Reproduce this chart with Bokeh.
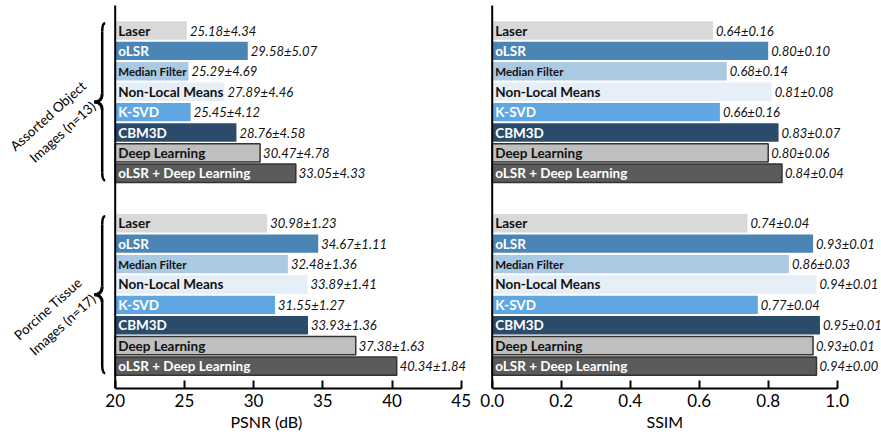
import math

from bokeh.core.properties import value
from bokeh.embed import file_html
from bokeh.layouts import row
from bokeh.models import ColumnDataSource, FixedTicker, PrintfTickFormatter, Range1d, Title
from bokeh.plotting import figure
from bokeh.resources import INLINE

# ---------------------------------------------------------------- data
methods = ["Laser", "oLSR", "Median Filter", "Non-Local Means", "K-SVD",
           "CBM3D", "Deep Learning", "oLSR + Deep Learning"]
groups = ["Assorted Object\nImages (n=13)", "Porcine Tissue\nImages (n=17)"]

psnr_mean_objects = [25.18, 29.58, 25.29, 27.89, 25.45, 28.76, 30.47, 33.05]
psnr_std_objects = [4.34, 5.07, 4.69, 4.46, 4.12, 4.58, 4.78, 4.33]
psnr_mean_tissue = [30.98, 34.67, 32.48, 33.89, 31.55, 33.93, 37.38, 40.34]
psnr_std_tissue = [1.23, 1.11, 1.36, 1.41, 1.27, 1.36, 1.63, 1.84]

ssim_mean_objects = [0.64, 0.80, 0.68, 0.81, 0.66, 0.83, 0.80, 0.84]
ssim_std_objects = [0.16, 0.10, 0.14, 0.08, 0.16, 0.07, 0.06, 0.04]
ssim_mean_tissue = [0.74, 0.93, 0.86, 0.94, 0.77, 0.95, 0.93, 0.94]
ssim_std_tissue = [0.04, 0.01, 0.03, 0.01, 0.04, 0.01, 0.01, 0.00]

psnr_ticks = [20, 25, 30, 35, 40, 45]
ssim_ticks = [0.0, 0.2, 0.4, 0.6, 0.8, 1.0]

# ---------------------------------------------------------------- style
fill_colors = ["#d9d9d9", "#4a85b6", "#aac9e3", "#e6eef8",
               "#60a7e2", "#2b4b6b", "#bfbfbf", "#5b5b5b"]
line_colors = [None, None, None, None, None, None, "#333333", "#333333"]
name_colors = ["#111111", "#ffffff", "#111111", "#111111",
               "#ffffff", "#ffffff", "#111111", "#ffffff"]
name_sizes = ["13.5px", "13.5px", "11.5px", "13.5px",
              "13.5px", "13.5px", "13.5px", "13.5px"]

FONT = "Lato"
H = 436
FRAME_H = 388                 # frame height; the x axis sits on its bottom edge
ROW_PX = 20.4                 # vertical pitch of one bar
FIRST_ROW_PX = 30             # centre of the first bar below the frame top
AXIS_TOP_PX = 5               # where the vertical axis line starts
GROUP_GAP = 9.45              # row offset of the second group
BAR_H = 0.9

y_start = (FRAME_H - FIRST_ROW_PX) / ROW_PX
y_end = -FIRST_ROW_PX / ROW_PX
y_axis_top = -(FIRST_ROW_PX - AXIS_TOP_PX) / ROW_PX


def make_source(means, stds, base):
    ys, rights, names, vals, fills, lines, ncols, nsizes = [], [], [], [], [], [], [], []
    for g, (m_list, s_list) in enumerate(zip(means, stds)):
        for i, (m, s) in enumerate(zip(m_list, s_list)):
            ys.append(g * GROUP_GAP + i)
            rights.append(m)
            names.append(methods[i])
            vals.append(f"{m:.2f}\u00b1{s:.2f}")
            fills.append(fill_colors[i])
            lines.append(line_colors[i])
            ncols.append(name_colors[i])
            nsizes.append(name_sizes[i])
    return ColumnDataSource(dict(y=ys, left=[base] * len(ys), right=rights, name=names,
                                 val=vals, fill=fills, line=lines, ncol=ncols, nsize=nsizes))


def make_panel(width, origin_px, px_per_unit, base, top, ticks, fmt, title, title_left,
               means, stds):
    x_start = base - origin_px / px_per_unit
    x_end = x_start + width / px_per_unit
    p = figure(width=width, height=H, output_backend="svg", toolbar_location=None,
               x_range=Range1d(x_start, x_end), y_range=Range1d(y_start, y_end),
               min_border_left=0, min_border_right=0, min_border_top=0,
               min_border_bottom=H - FRAME_H)
    p.outline_line_color = None
    p.grid.visible = False
    p.yaxis.visible = False
    p.background_fill_color = "white"
    p.border_fill_color = "white"

    src = make_source(means, stds, base)
    p.hbar(y="y", left="left", right="right", height=BAR_H, fill_color="fill",
           line_color="line", line_width=1.5, source=src)
    p.text(x="left", y="y", text="name", source=src, x_offset=3,
           text_font=value(FONT), text_font_style="bold", text_font_size="nsize",
           text_color="ncol", text_baseline="middle", text_align="left")
    p.text(x="right", y="y", text="val", source=src, x_offset=3,
           text_font=value(FONT), text_font_style="italic", text_font_size="13px",
           text_color="#111111", text_baseline="middle", text_align="left")

    # vertical axis line
    p.segment(x0=[base], y0=[y_start], x1=[base], y1=[y_axis_top],
              line_color="black", line_width=2)

    ax = p.xaxis[0]
    ax.bounds = (base, top)
    ax.ticker = FixedTicker(ticks=ticks)
    ax.formatter = PrintfTickFormatter(format=fmt)
    ax.axis_line_width = 2
    ax.axis_line_color = "black"
    ax.major_tick_line_width = 2
    ax.major_tick_line_color = "black"
    ax.major_tick_in = 8
    ax.major_tick_out = 0
    ax.minor_tick_line_color = None
    ax.major_label_standoff = 5
    ax.major_label_text_font = FONT
    ax.major_label_text_font_size = "17px"
    ax.major_label_text_color = "black"

    p.add_layout(Title(text=title, align="left", offset=title_left, standoff=0,
                       text_font=FONT, text_font_size="16px", text_font_style="normal",
                       text_color="black"), "below")
    return p


PSNR_ORIGIN = 114.7
PSNR_PPU = 13.84
left = make_panel(476, PSNR_ORIGIN, PSNR_PPU, 20, 45, psnr_ticks, "%d", "PSNR (dB)", 230,
                  [psnr_mean_objects, psnr_mean_tissue], [psnr_std_objects, psnr_std_tissue])
right = make_panel(405, 491.7 - 476, 345.0, 0.0, 1.0, ssim_ticks, "%.1f", "SSIM", 170,
                   [ssim_mean_objects, ssim_mean_tissue], [ssim_std_objects, ssim_std_tissue])

# ---------------------------------------------------------------- group braces and labels
def px_to_psnr(offset_px):
    """Horizontal offset (pixels, relative to the PSNR axis origin) in data units."""
    return 20 + offset_px / PSNR_PPU


stem_x = px_to_psnr(-13)
end_x = px_to_psnr(-10)
tip_x = px_to_psnr(-21)
hook = 0.4
for g, name in enumerate(groups):
    top_y = g * GROUP_GAP - 0.35
    bot_y = g * GROUP_GAP + len(methods) - 1 + 0.35
    mid = (top_y + bot_y) / 2
    for sgn, yb in ((1, top_y), (-1, bot_y)):
        left.quadratic(x0=[end_x], y0=[yb], x1=[stem_x], y1=[yb + sgn * hook],
                       cx=[stem_x], cy=[yb], line_color="black", line_width=2.5)
        left.segment(x0=[stem_x], y0=[yb + sgn * hook], x1=[stem_x], y1=[mid - sgn * hook],
                     line_color="black", line_width=2.5)
        left.quadratic(x0=[stem_x], y0=[mid - sgn * hook], x1=[tip_x], y1=[mid],
                       cx=[stem_x], cy=[mid], line_color="black", line_width=3)
    left.text(x=[px_to_psnr(-60)], y=[mid + 1.08], text=[name], angle=math.radians(42),
              text_font=value(FONT), text_font_size="13.5px", text_color="black",
              text_align="center", text_baseline="middle", text_line_height=1.35)

layout = row(left, right)
open("out.html", "w").write(file_html(layout, INLINE))
